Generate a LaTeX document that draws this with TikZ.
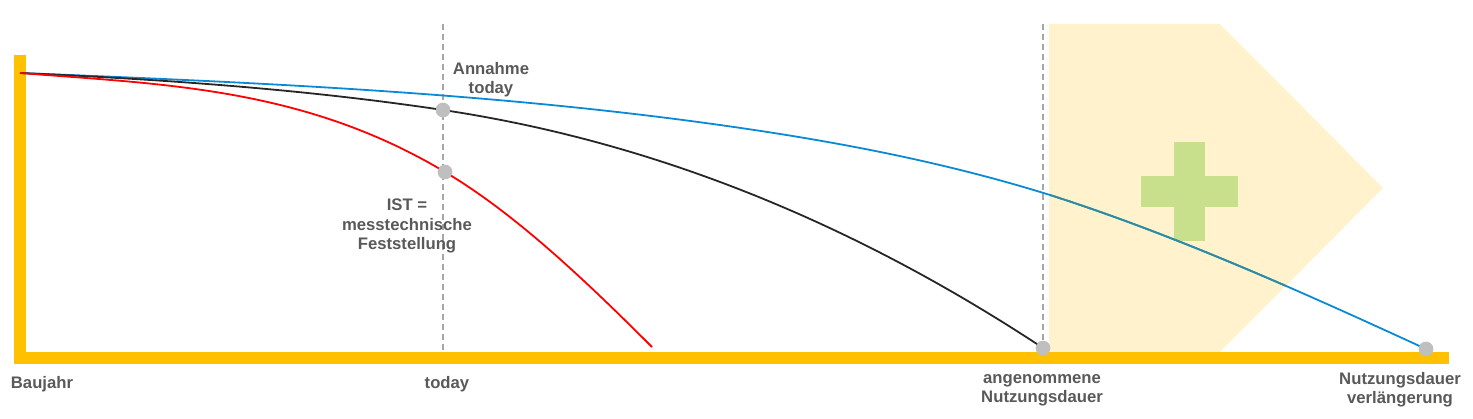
\documentclass[tikz,border=0pt]{standalone}
\usepackage{fontspec}
\setmainfont{Liberation Sans}
\definecolor{axisY}{HTML}{FFC000}
\definecolor{penta}{HTML}{FFF2CC}
\definecolor{crossG}{HTML}{C8E08C}
\definecolor{lblue}{HTML}{0A8AD4}
\definecolor{lteal}{HTML}{2E8C9E}
\definecolor{lblack}{HTML}{262626}
\definecolor{txt}{HTML}{595959}
\definecolor{dashc}{HTML}{A6A6A6}
\definecolor{dotc}{HTML}{BFBFBF}
\tikzset{
  lbl/.style={font=\fontsize{16.7}{19.5}\selectfont\bfseries, text=txt, align=center, inner sep=0pt, anchor=base},
  guide/.style={draw=dashc, line width=1.8pt, dash pattern=on 6pt off 4pt},
  curve/.style={line width=1.8pt},
  pt/.style={circle, fill=dotc, minimum size=14.5pt, inner sep=0pt},
}
\begin{document}
\begin{tikzpicture}[x=1pt,y=-1pt]
\useasboundingbox (0,0) rectangle (1473,419);
% pentagon
\fill[penta] (1049,24) -- (1220,24) -- (1383,188) -- (1220,352) -- (1049,352) -- cycle;
% cross
\fill[crossG] (1174,142) rectangle (1205,241);
\fill[crossG] (1141,176) rectangle (1238,207);
% axes
\fill[axisY] (14,55) rectangle (26,364);
\fill[axisY] (14,352) rectangle (1449,364);
% dashed guides
\coordinate (g1t) at (443,24);
\coordinate (g1b) at (443,350);
\coordinate (g2t) at (1043,24);
\coordinate (g2b) at (1043,348);
\draw[guide] (g1t) -- (g1b);
\draw[guide] (g2t) -- (g2b);
% dots
\node[pt] (d1) at (443,110) {};
\node[pt] (d2) at (445,172) {};
\node[pt] (d3) at (1043,348) {};
\node[pt] (d4) at (1426,349) {};
\coordinate (o) at (20,73);
\coordinate (b1) at (683,120);
\coordinate (b2) at (1050,195);
% curves
\draw[curve, lblue] (o) .. controls (241,81.8) and (462,91.3) .. (b1)
  .. controls (805,136) and (928,157) .. (b2)
  .. controls (1175,235) and (1301,291.5) .. (d4.center);
\begin{scope}
\clip (1049,24) -- (1220,24) -- (1383,188) -- (1220,352) -- (1049,352) -- cycle;
\draw[curve, lteal] (b2) .. controls (1175,235) and (1301,291.5) .. (d4.center);
\end{scope}
\draw[curve, lblack] (o) .. controls (161,79.3) and (302,88.9) .. (d1.center)
  .. controls (643,140) and (843,216) .. (d3.center);
\draw[curve, red] (o) .. controls (162,84.4) and (303,87) .. (d2.center)
  .. controls (514,213) and (583,278) .. (652,347);
% redraw dots on top
\node[pt] at (d1) {};
\node[pt] at (d2) {};
\node[pt] at (d3) {};
\node[pt] at (d4) {};
% labels
\node[lbl] (annahme) at (491,94) {Annahme\\today};
\node[lbl] (ist) at (407,250) {IST =\\messtechnische\\Feststellung};
\node[lbl] (baujahr) at (42,389) {Baujahr};
\node[lbl] (today) at (447,389) {today};
\node[lbl] (angen) at (1042,403) {angenommene\\Nutzungsdauer};
\node[lbl] (verl) at (1400,404) {Nutzungsdauer\\verlängerung};
\end{tikzpicture}
\end{document}
